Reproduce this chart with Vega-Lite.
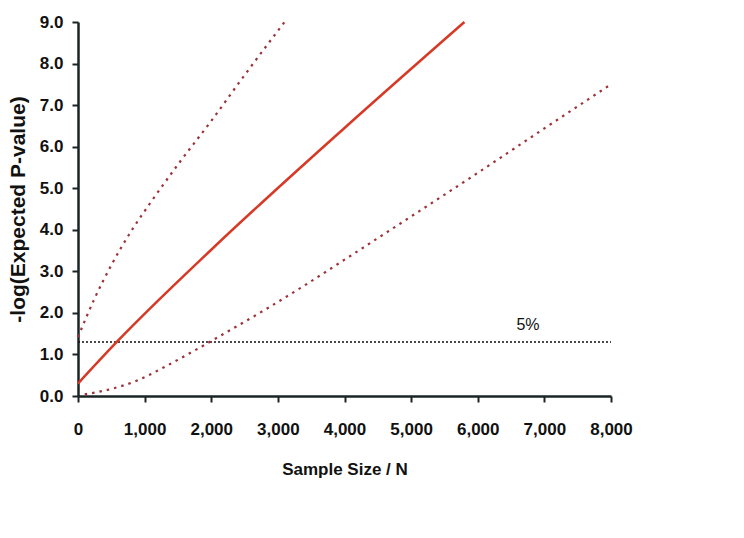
{
  "$schema": "https://vega.github.io/schema/vega-lite/v6.json",
  "autosize": "none",
  "width": 533,
  "height": 374,
  "padding": {"left": 78, "top": 22, "right": 133, "bottom": 142},
  "background": "white",
  "config": {
    "view": {"stroke": null},
    "font": "Liberation Sans"
  },
  "datasets": {
    "curves": [
      {"N": 0, "p": 0.3, "series": "expected"},
      {"N": 600, "p": 1.33, "series": "expected"},
      {"N": 2000, "p": 3.52, "series": "expected"},
      {"N": 4000, "p": 6.45, "series": "expected"},
      {"N": 5800, "p": 9.0, "series": "expected"},

      {"N": 0, "p": 1.42, "series": "upper"},
      {"N": 250, "p": 2.35, "series": "upper"},
      {"N": 500, "p": 3.15, "series": "upper"},
      {"N": 800, "p": 3.97, "series": "upper"},
      {"N": 1100, "p": 4.68, "series": "upper"},
      {"N": 1500, "p": 5.57, "series": "upper"},
      {"N": 2000, "p": 6.62, "series": "upper"},
      {"N": 2500, "p": 7.72, "series": "upper"},
      {"N": 3100, "p": 9.0, "series": "upper"},

      {"N": 100, "p": 0.04, "series": "lower"},
      {"N": 500, "p": 0.17, "series": "lower"},
      {"N": 900, "p": 0.38, "series": "lower"},
      {"N": 1300, "p": 0.7, "series": "lower"},
      {"N": 1700, "p": 1.05, "series": "lower"},
      {"N": 2030, "p": 1.35, "series": "lower"},
      {"N": 2800, "p": 2.07, "series": "lower"},
      {"N": 3400, "p": 2.66, "series": "lower"},
      {"N": 4000, "p": 3.28, "series": "lower"},
      {"N": 5000, "p": 4.32, "series": "lower"},
      {"N": 6000, "p": 5.37, "series": "lower"},
      {"N": 7000, "p": 6.44, "series": "lower"},
      {"N": 8000, "p": 7.5, "series": "lower"}
    ],
    "threshold": [
      {"N": 0, "p": 1.3},
      {"N": 8000, "p": 1.3}
    ],
    "label": [
      {"N": 6754, "p": 1.71, "text": "5%"}
    ]
  },
  "layer": [
    {
      "data": {"name": "threshold"},
      "mark": {"type": "line", "color": "#111111", "strokeWidth": 1.6, "strokeDash": [2, 2]},
      "encoding": {
        "x": {"field": "N", "type": "quantitative", "scale": {"domain": [0, 8000], "nice": false},
          "axis": {
            "title": "Sample Size / N",
            "values": [0, 1000, 2000, 3000, 4000, 5000, 6000, 7000, 8000],
            "format": ",d",
            "grid": false,
            "labelFlush": false,
            "labelOverlap": false,
            "domainColor": "#1a2424", "domainWidth": 2.5,
            "tickColor": "#1a2424", "tickWidth": 2, "tickSize": 6,
            "labelFont": "Liberation Sans", "labelFontSize": 17, "labelFontWeight": "bold", "labelColor": "#111111",
            "labelPadding": 19,
            "titleFont": "Liberation Sans", "titleFontSize": 17, "titleFontWeight": "bold", "titleColor": "#111111",
            "titlePadding": 24
          }},
        "y": {"field": "p", "type": "quantitative", "scale": {"domain": [0, 9], "nice": false},
          "axis": {
            "title": "-log(Expected P-value)",
            "values": [0, 1, 2, 3, 4, 5, 6, 7, 8, 9],
            "format": ".1f",
            "grid": false,
            "labelFlush": false,
            "domainColor": "#1a2424", "domainWidth": 2.5,
            "tickColor": "#1a2424", "tickWidth": 2, "tickSize": 6,
            "labelFont": "Liberation Sans", "labelFontSize": 17, "labelFontWeight": "bold", "labelColor": "#111111",
            "labelPadding": 9,
            "titleFont": "Liberation Sans", "titleFontSize": 21, "titleFontWeight": "bold", "titleColor": "#111111",
            "titlePadding": 11
          }}
      }
    },
    {
      "data": {"name": "curves"},
      "transform": [{"filter": "datum.series === 'expected'"}],
      "mark": {"type": "line", "color": "#d63a26", "strokeWidth": 2.5, "interpolate": "monotone"},
      "encoding": {
        "x": {"field": "N", "type": "quantitative"},
        "y": {"field": "p", "type": "quantitative"}
      }
    },
    {
      "data": {"name": "curves"},
      "transform": [{"filter": "datum.series !== 'expected'"}],
      "mark": {"type": "line", "color": "#9e3038", "strokeWidth": 2.2, "strokeDash": [2.5, 5], "interpolate": "monotone"},
      "encoding": {
        "x": {"field": "N", "type": "quantitative"},
        "y": {"field": "p", "type": "quantitative"},
        "detail": {"field": "series"}
      }
    },
    {
      "data": {"name": "label"},
      "mark": {"type": "text", "font": "Liberation Sans", "fontSize": 16, "color": "#111111", "align": "center", "baseline": "middle"},
      "encoding": {
        "x": {"field": "N", "type": "quantitative"},
        "y": {"field": "p", "type": "quantitative"},
        "text": {"field": "text"}
      }
    }
  ]
}
